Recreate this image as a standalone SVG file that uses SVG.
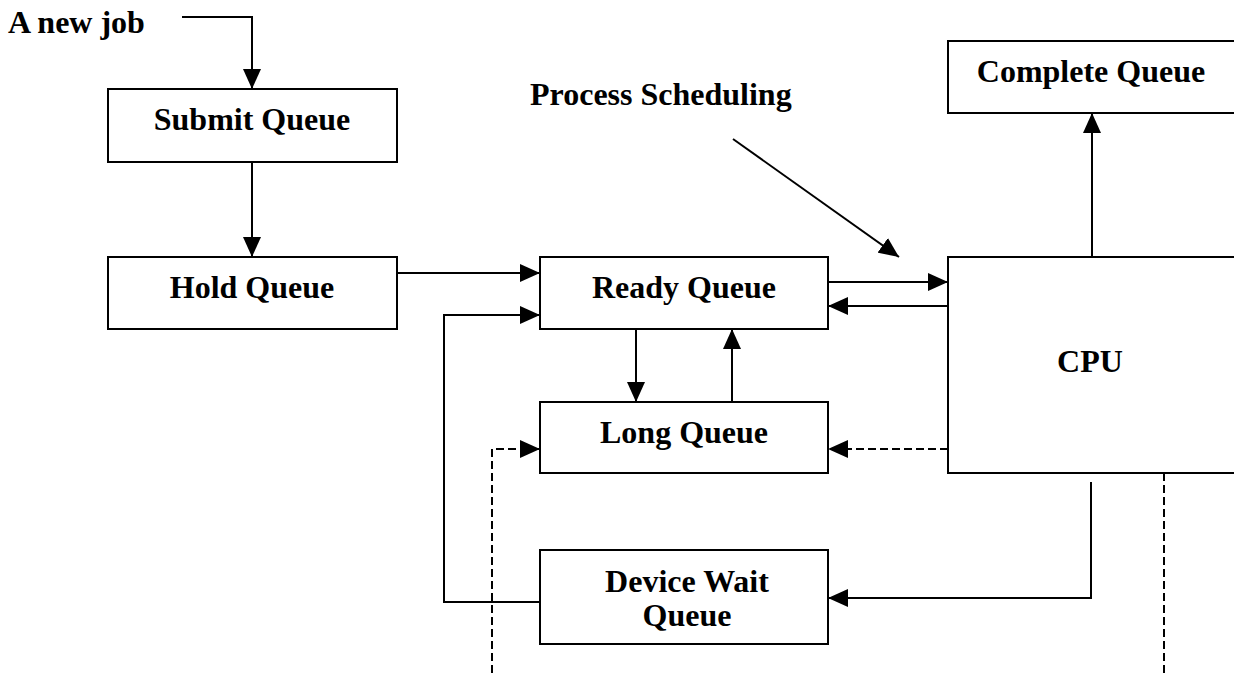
<svg xmlns="http://www.w3.org/2000/svg" width="1234" height="673" viewBox="0 0 1234 673">
<style>
  .box { fill: #ffffff; stroke: #000000; stroke-width: 2; }
  .lbl { font-family: "Liberation Serif", "Times New Roman", serif; font-weight: bold; font-size: 32px; fill: #000000; text-anchor: middle; }
  .free { font-family: "Liberation Serif", "Times New Roman", serif; font-weight: bold; font-size: 32px; fill: #000000; }
  .conn { fill: none; stroke: #000000; stroke-width: 2; }
  .dash { stroke-dasharray: 8 4; }
</style>
<defs>
  <marker id="arrow" markerUnits="userSpaceOnUse" markerWidth="20" markerHeight="18" refX="20" refY="9" orient="auto">
    <path d="M0,0 L20,9 L0,18 Z" fill="#000000" stroke="none"/>
  </marker>
</defs>
<rect width="1234" height="673" fill="#ffffff"/>

<g id="label-new-job">
  <text class="free" x="8" y="33">A new job</text>
</g>
<g id="label-process-scheduling">
  <text class="free" x="530" y="105">Process Scheduling</text>
</g>

<g id="submit-queue">
  <rect class="box" x="108" y="89" width="289" height="73"/>
  <text class="lbl" x="252" y="130">Submit Queue</text>
</g>
<g id="hold-queue">
  <rect class="box" x="108" y="257" width="289" height="72"/>
  <text class="lbl" x="252" y="298">Hold Queue</text>
</g>
<g id="ready-queue">
  <rect class="box" x="540" y="257" width="288" height="72"/>
  <text class="lbl" x="684" y="298">Ready Queue</text>
</g>
<g id="long-queue">
  <rect class="box" x="540" y="402" width="288" height="71"/>
  <text class="lbl" x="684" y="443">Long Queue</text>
</g>
<g id="device-wait-queue">
  <rect class="box" x="540" y="550" width="288" height="94"/>
  <text class="lbl" x="687" y="592">Device Wait</text>
  <text class="lbl" x="687" y="626">Queue</text>
</g>
<g id="complete-queue">
  <rect class="box" x="948" y="41" width="290" height="72"/>
  <text class="lbl" x="1091" y="82">Complete Queue</text>
</g>
<g id="cpu">
  <rect class="box" x="948" y="257" width="290" height="216"/>
  <text class="lbl" x="1090" y="372">CPU</text>
</g>

<g id="connectors">
  <polyline class="conn" points="182,17 252,17 252,89" marker-end="url(#arrow)"/>
  <line class="conn" x1="252" y1="162" x2="252" y2="257" marker-end="url(#arrow)"/>
  <line class="conn" x1="397" y1="273" x2="540" y2="273" marker-end="url(#arrow)"/>
  <line class="conn" x1="636" y1="329" x2="636" y2="402" marker-end="url(#arrow)"/>
  <line class="conn" x1="732" y1="402" x2="732" y2="329" marker-end="url(#arrow)"/>
  <line class="conn" x1="828" y1="282" x2="948" y2="282" marker-end="url(#arrow)"/>
  <line class="conn" x1="948" y1="306" x2="828" y2="306" marker-end="url(#arrow)"/>
  <line class="conn" x1="733" y1="139" x2="899" y2="257" marker-end="url(#arrow)"/>
  <line class="conn" x1="1092" y1="257" x2="1092" y2="113" marker-end="url(#arrow)"/>
  <line class="conn dash" x1="948" y1="449" x2="828" y2="449" marker-end="url(#arrow)"/>
  <polyline class="conn dash" points="492,673 492,449 540,449" marker-end="url(#arrow)"/>
  <polyline class="conn" points="1091,482 1091,598 828,598" marker-end="url(#arrow)"/>
  <polyline class="conn" points="540,602 444,602 444,315 540,315" marker-end="url(#arrow)"/>
  <line class="conn dash" x1="1164" y1="473" x2="1164" y2="673"/>
</g>
</svg>
